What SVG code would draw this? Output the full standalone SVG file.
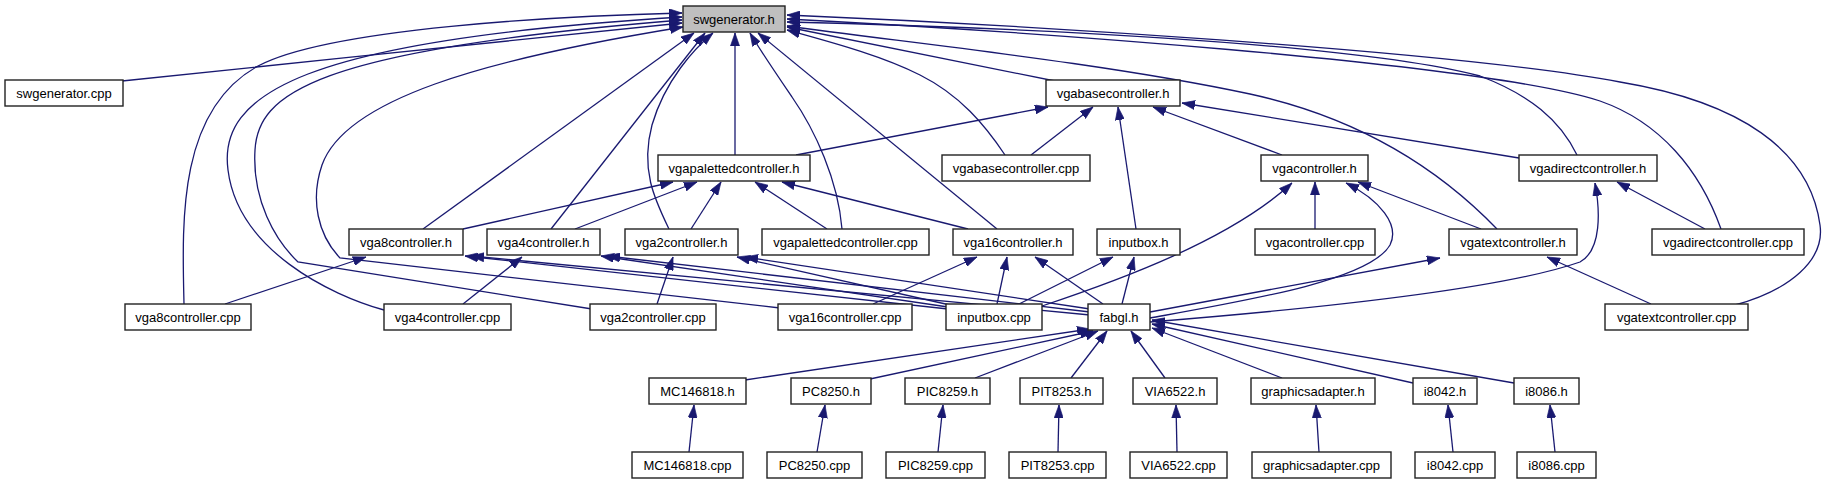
<svg xmlns="http://www.w3.org/2000/svg" width="1826" height="485" viewBox="0 0 1826 485">
<style>
.n rect{fill:#fff;stroke:#222;stroke-width:1.4}
.n.root rect{fill:#bfbfbf}
.n text{font-family:"Liberation Sans",Helvetica,Arial,sans-serif;font-size:13px;fill:#000;text-anchor:middle}
.e path{fill:none;stroke:#191970;stroke-width:1.3;marker-end:url(#ah)}
</style>
<defs>
<marker id="ah" viewBox="0 0 10 7" refX="10" refY="3.5" markerWidth="13" markerHeight="9.5" markerUnits="userSpaceOnUse" orient="auto">
<path d="M0,0 L10,3.5 L0,7 z" fill="#191970" stroke="#191970" stroke-width="0.5"/>
</marker>
</defs>
<rect width="1826" height="485" fill="#fff"/>
<g class="e">
<!-- into swgenerator.h -->
<path d="M122,81 C300,62 560,36 682,23"/>
<path d="M184,304 C182,220 178,110 258,66 C330,28 560,16 682,13"/>
<path d="M384,310 C330,295 238,250 228,170 C218,95 300,40 682,17"/>
<path d="M592,309 L298,262 C275,240 252,200 255,150 C258,95 310,50 682,20"/>
<path d="M780,308 L340,258 C318,235 310,200 322,165 C345,100 480,60 683,27"/>
<path d="M423,229 L694,33"/>
<path d="M551,229 L705,33"/>
<path d="M669,229 C655,200 640,170 652,125 C665,80 695,48 713,33"/>
<path d="M735,155 L735,33"/>
<path d="M842,229 C838,180 815,130 792,97 C775,72 760,50 750,33"/>
<path d="M997,229 L758,33"/>
<path d="M1005,155 C985,125 960,95 920,75 C880,55 830,42 787,30"/>
<path d="M1055,81 L787,27"/>
<path d="M1497,229 C1440,170 1360,118 1250,94 C1100,62 900,42 787,26"/>
<path d="M1577,155 C1560,120 1530,95 1480,76 C1350,42 1000,27 787,22"/>
<path d="M1721,229 C1700,170 1660,122 1600,101 C1480,62 1000,30 787,19"/>
<path d="M1735,305 C1790,290 1825,260 1820,225 C1810,150 1740,102 1620,82 C1450,50 1000,24 787,15"/>
<!-- into vgabasecontroller.h -->
<path d="M796,155 L1048,107"/>
<path d="M1031,155 L1093,107"/>
<path d="M1136,229 L1118,107"/>
<path d="M1282,155 L1153,107"/>
<path d="M1519,158 L1182,103"/>
<!-- into vgapalettedcontroller.h -->
<path d="M463,229 L673,182"/>
<path d="M575,229 L697,182"/>
<path d="M691,229 L721,182"/>
<path d="M827,229 L755,182"/>
<path d="M968,229 L782,182"/>
<!-- into vgacontroller.h -->
<path d="M1315,229 L1315,182"/>
<path d="M1481,229 L1358,182"/>
<path d="M1042,306 C1120,280 1230,240 1292,183"/>
<path d="M1150,318 C1250,300 1370,280 1390,245 C1400,225 1380,200 1346,183"/>
<!-- vgadirectcontroller.h -->
<path d="M1705,229 L1617,182"/>
<path d="M1150,322 C1300,310 1500,290 1580,262 C1602,250 1600,210 1595,183"/>
<!-- vgatextcontroller.h -->
<path d="M1150,312 L1440,258"/>
<path d="M1651,304 L1547,257"/>
<!-- vga16controller.h -->
<path d="M873,304 L977,257"/>
<path d="M997,304 L1007,257"/>
<path d="M1103,304 L1035,257"/>
<!-- inputbox.h -->
<path d="M1019,304 L1113,257"/>
<path d="M1122,304 L1134,257"/>
<!-- vga2controller.h -->
<path d="M657,304 L673,257"/>
<path d="M950,305 L737,257"/>
<path d="M1090,309 L745,257"/>
<!-- vga4controller.h -->
<path d="M463,304 L522,257"/>
<path d="M948,307 L601,256"/>
<path d="M1090,312 L607,256"/>
<!-- vga8controller.h -->
<path d="M225,304 L366,257"/>
<path d="M948,309 L465,256"/>
<path d="M1090,315 L471,256"/>
<!-- into fabgl.h -->
<path d="M745,380 L1090,329"/>
<path d="M870,379 L1093,331"/>
<path d="M975,378 L1098,331"/>
<path d="M1071,378 L1107,331"/>
<path d="M1165,378 L1131,331"/>
<path d="M1282,378 L1152,328"/>
<path d="M1413,383 L1152,324"/>
<path d="M1514,383 L1152,320"/>
<!-- row 7 -> row 6 -->
<path d="M689,452 L694,405"/>
<path d="M817,452 L825,405"/>
<path d="M938,452 L943,405"/>
<path d="M1058,452 L1059,405"/>
<path d="M1177,452 L1176,405"/>
<path d="M1319,452 L1316,405"/>
<path d="M1453,452 L1448,405"/>
<path d="M1555,452 L1550,405"/>
</g>
<g id="swgenerator_h" class="n root"><rect x="683" y="6" width="102" height="26"/><text x="734" y="23.5">swgenerator.h</text></g>
<g id="swgenerator_cpp" class="n"><rect x="5" y="80" width="118" height="26"/><text x="64" y="97.5">swgenerator.cpp</text></g>
<g id="vgabasecontroller_h" class="n"><rect x="1046" y="80" width="134" height="26"/><text x="1113" y="97.5">vgabasecontroller.h</text></g>
<g id="vgapalettedcontroller_h" class="n"><rect x="658" y="155" width="152" height="26"/><text x="734" y="172.5">vgapalettedcontroller.h</text></g>
<g id="vgabasecontroller_cpp" class="n"><rect x="942" y="155" width="148" height="26"/><text x="1016" y="172.5">vgabasecontroller.cpp</text></g>
<g id="vgacontroller_h" class="n"><rect x="1261" y="155" width="107" height="26"/><text x="1314.5" y="172.5">vgacontroller.h</text></g>
<g id="vgadirectcontroller_h" class="n"><rect x="1519" y="155" width="138" height="26"/><text x="1588" y="172.5">vgadirectcontroller.h</text></g>
<g id="vga8controller_h" class="n"><rect x="349" y="229" width="114" height="26"/><text x="406" y="246.5">vga8controller.h</text></g>
<g id="vga4controller_h" class="n"><rect x="487" y="229" width="113" height="26"/><text x="543.5" y="246.5">vga4controller.h</text></g>
<g id="vga2controller_h" class="n"><rect x="625" y="229" width="113" height="26"/><text x="681.5" y="246.5">vga2controller.h</text></g>
<g id="vgapalettedcontroller_cpp" class="n"><rect x="762" y="229" width="167" height="26"/><text x="845.5" y="246.5">vgapalettedcontroller.cpp</text></g>
<g id="vga16controller_h" class="n"><rect x="953" y="229" width="120" height="26"/><text x="1013" y="246.5">vga16controller.h</text></g>
<g id="inputbox_h" class="n"><rect x="1097" y="229" width="83" height="26"/><text x="1138.5" y="246.5">inputbox.h</text></g>
<g id="vgacontroller_cpp" class="n"><rect x="1255" y="229" width="120" height="26"/><text x="1315" y="246.5">vgacontroller.cpp</text></g>
<g id="vgatextcontroller_h" class="n"><rect x="1449" y="229" width="128" height="26"/><text x="1513" y="246.5">vgatextcontroller.h</text></g>
<g id="vgadirectcontroller_cpp" class="n"><rect x="1652" y="229" width="152" height="26"/><text x="1728" y="246.5">vgadirectcontroller.cpp</text></g>
<g id="vga8controller_cpp" class="n"><rect x="125" y="304" width="126" height="26"/><text x="188" y="321.5">vga8controller.cpp</text></g>
<g id="vga4controller_cpp" class="n"><rect x="384" y="304" width="127" height="26"/><text x="447.5" y="321.5">vga4controller.cpp</text></g>
<g id="vga2controller_cpp" class="n"><rect x="590" y="304" width="126" height="26"/><text x="653" y="321.5">vga2controller.cpp</text></g>
<g id="vga16controller_cpp" class="n"><rect x="778" y="304" width="134" height="26"/><text x="845" y="321.5">vga16controller.cpp</text></g>
<g id="inputbox_cpp" class="n"><rect x="946" y="304" width="96" height="26"/><text x="994" y="321.5">inputbox.cpp</text></g>
<g id="fabgl_h" class="n"><rect x="1088" y="304" width="62" height="26"/><text x="1119" y="321.5">fabgl.h</text></g>
<g id="vgatextcontroller_cpp" class="n"><rect x="1605" y="304" width="143" height="26"/><text x="1676.5" y="321.5">vgatextcontroller.cpp</text></g>
<g id="MC146818_h" class="n"><rect x="649" y="378" width="97" height="26"/><text x="697.5" y="395.5">MC146818.h</text></g>
<g id="PC8250_h" class="n"><rect x="791" y="378" width="80" height="26"/><text x="831" y="395.5">PC8250.h</text></g>
<g id="PIC8259_h" class="n"><rect x="905" y="378" width="85" height="26"/><text x="947.5" y="395.5">PIC8259.h</text></g>
<g id="PIT8253_h" class="n"><rect x="1020" y="378" width="83" height="26"/><text x="1061.5" y="395.5">PIT8253.h</text></g>
<g id="VIA6522_h" class="n"><rect x="1133" y="378" width="84" height="26"/><text x="1175" y="395.5">VIA6522.h</text></g>
<g id="graphicsadapter_h" class="n"><rect x="1251" y="378" width="124" height="26"/><text x="1313" y="395.5">graphicsadapter.h</text></g>
<g id="i8042_h" class="n"><rect x="1413" y="378" width="64" height="26"/><text x="1445" y="395.5">i8042.h</text></g>
<g id="i8086_h" class="n"><rect x="1514" y="378" width="65" height="26"/><text x="1546.5" y="395.5">i8086.h</text></g>
<g id="MC146818_cpp" class="n"><rect x="632" y="452" width="111" height="26"/><text x="687.5" y="469.5">MC146818.cpp</text></g>
<g id="PC8250_cpp" class="n"><rect x="767" y="452" width="95" height="26"/><text x="814.5" y="469.5">PC8250.cpp</text></g>
<g id="PIC8259_cpp" class="n"><rect x="886" y="452" width="99" height="26"/><text x="935.5" y="469.5">PIC8259.cpp</text></g>
<g id="PIT8253_cpp" class="n"><rect x="1009" y="452" width="97" height="26"/><text x="1057.5" y="469.5">PIT8253.cpp</text></g>
<g id="VIA6522_cpp" class="n"><rect x="1130" y="452" width="97" height="26"/><text x="1178.5" y="469.5">VIA6522.cpp</text></g>
<g id="graphicsadapter_cpp" class="n"><rect x="1252" y="452" width="139" height="26"/><text x="1321.5" y="469.5">graphicsadapter.cpp</text></g>
<g id="i8042_cpp" class="n"><rect x="1415" y="452" width="80" height="26"/><text x="1455" y="469.5">i8042.cpp</text></g>
<g id="i8086_cpp" class="n"><rect x="1517" y="452" width="79" height="26"/><text x="1556.5" y="469.5">i8086.cpp</text></g>
</svg>
